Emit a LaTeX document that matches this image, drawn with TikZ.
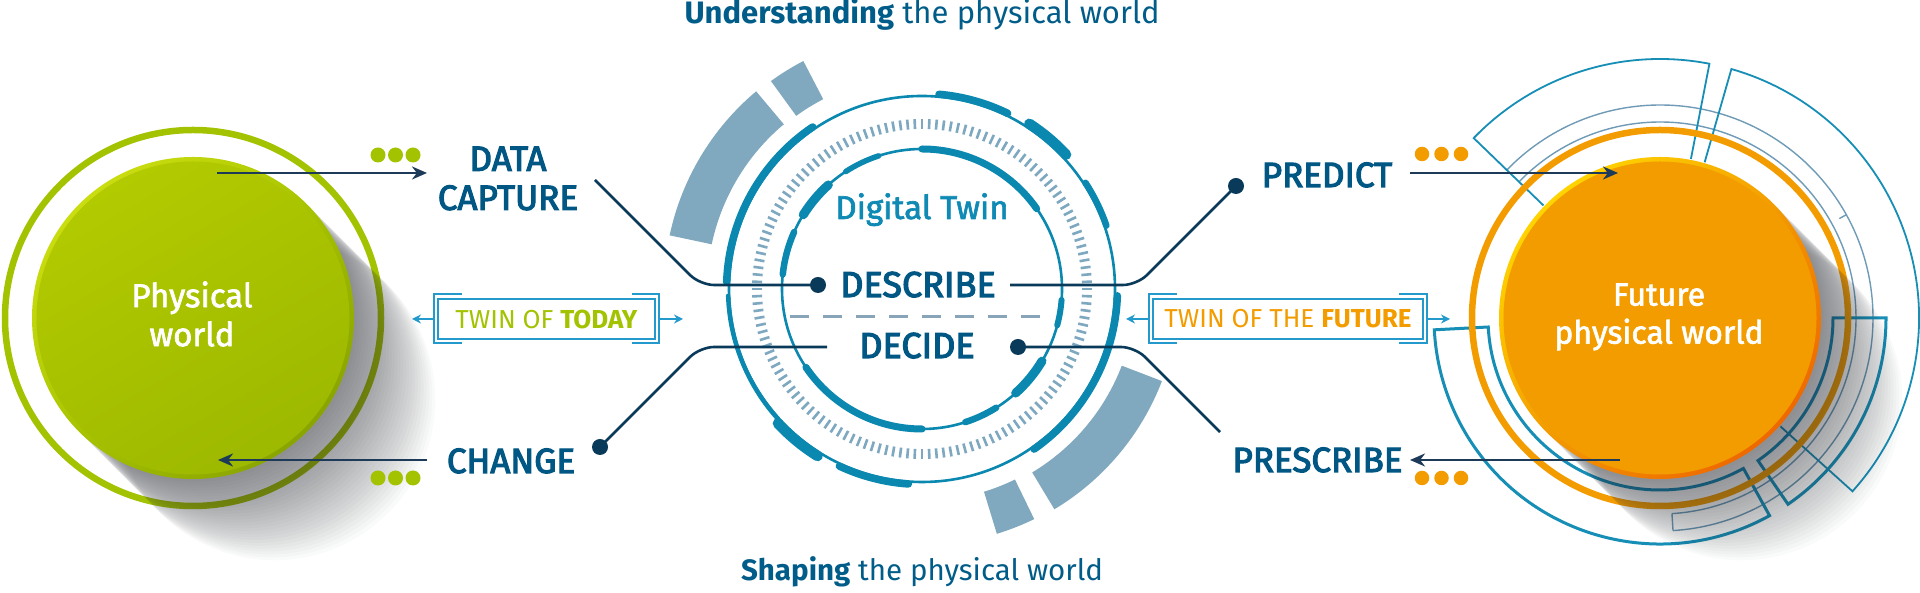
\documentclass[tikz,border=0pt]{standalone}
\usepackage{fontspec}
\setmainfont{Fira Sans}
\newfontfamily\medfont[FakeBold=2]{Fira Sans}
\newfontfamily\semifont[FakeBold=3.2]{Fira Sans}
\usetikzlibrary{arrows.meta}
\definecolor{labblue}{HTML}{005783}
\definecolor{ttlblue}{HTML}{005C88}
\definecolor{navyc}{HTML}{0A3A5A}
\definecolor{arrowc}{HTML}{1D3B58}
\definecolor{ringteal}{HTML}{0A88B0}
\definecolor{dtwin}{HTML}{0F8AB5}
\definecolor{tickc}{HTML}{7EA8C0}
\definecolor{blockc}{HTML}{80A9BF}
\definecolor{dashc}{HTML}{88A4B8}
\definecolor{boxc}{HTML}{2399CC}
\definecolor{pwgreen}{HTML}{A3C200}
\definecolor{grim1}{HTML}{CADD10}
\definecolor{gmid}{HTML}{A8C400}
\definecolor{grim2}{HTML}{8AA400}
\definecolor{gin1}{HTML}{B2CA00}
\definecolor{gin2}{HTML}{9DB900}
\definecolor{pworange}{HTML}{F39C00}
\definecolor{orim1}{HTML}{FFD400}
\definecolor{orim2}{HTML}{EE6800}
\definecolor{greyline}{HTML}{6F9BB6}
\definecolor{tealline}{HTML}{168EB6}
\definecolor{shadowc}{HTML}{2A2E36}
\begin{document}
\begin{tikzpicture}[x=1pt,y=1pt,
  lab/.style={text=labblue, font=\semifont\fontsize{35}{39}\selectfont, inner sep=0pt, align=center},
  ttl/.style={text=ttlblue, font=\fontsize{31}{34}\selectfont, inner sep=0pt},
  conn/.style={draw=navyc, line width=2.6pt, rounded corners=14pt},
  dotn/.style={circle, fill=navyc, minimum size=16pt, inner sep=0pt},
  gdot/.style={circle, fill=pwgreen, minimum size=15pt, inner sep=0pt},
  odot/.style={circle, fill=pworange, minimum size=14.5pt, inner sep=0pt},
  bigarrow/.style={draw=arrowc, line width=2.8pt, -{Stealth[length=15pt,width=13pt]}},
  boxline/.style={draw=boxc, line width=1.6pt},
  boxarrow/.style={draw=boxc, line width=2pt, -{Stealth[length=9pt,width=9pt]}},
  twinbox/.style={draw=boxc, line width=1.6pt, inner sep=0pt, font=\fontsize{26}{30}\selectfont},
  tealthin/.style={draw=tealline, line width=1.8pt},
  tealthick/.style={draw=tealline, line width=3pt},
  thingrey/.style={draw=greyline, line width=1.4pt},
  disktext/.style={text=white, font=\medfont\fontsize{33}{39}\selectfont, inner sep=0pt, align=center},
  shadowdisk/.style={fill=shadowc, opacity=0.022}
]
\useasboundingbox (0,0) rectangle (1920,593);
\fill[white] (0,0) rectangle (1920,593);

% ================= central digital twin =================
\begin{scope}[shift={(922,304)}]
  \fill[blockc] (130:215) arc[start angle=130,end angle=168,radius=215] -- (168:258) arc[start angle=168,end angle=130,radius=258] -- cycle;
  \fill[blockc] (117.5:214) arc[start angle=117.5,end angle=126,radius=214] -- (126:257) arc[start angle=126,end angle=117.5,radius=257] -- cycle;
  \fill[blockc] (-59:214) arc[start angle=-59,end angle=-21,radius=214] -- (-21:257) arc[start angle=-21,end angle=-59,radius=257] -- cycle;
  \fill[blockc] (-73:212) arc[start angle=-73,end angle=-64,radius=212] -- (-64:256) arc[start angle=-64,end angle=-73,radius=256] -- cycle;
  \foreach \a in {0,2.5,...,357.5} \draw[tickc, line width=2.6pt] (\a:160) -- (\a:170);
  \draw[ringteal, line width=2.6pt] (0,0) circle[radius=193];
  \foreach \s/\e/\w in {64/85/7.5, 43/57/10.5, 19/33/6.5, -55/-2/7.5, -115/-94/7.5, -137/-122/10.5, 124/178/7.5, 182/222/4.5} {
    \pgfmathsetmacro\rr{191.7+\w/2}
    \draw[ringteal, line width=\w pt, line cap=round] (\s:\rr) arc[start angle=\s,end angle=\e,radius=\rr];
  }
  \draw[ringteal, line width=2.6pt] (0,0) circle[radius=140];
  \foreach \s/\e/\w in {35/90/7, 108/123/5.5, 132/148/9, 156/174/6.5, -146/-90/7, -72/-58/6.5, -48/-31/9, -15/-4.5/6} {
    \draw[ringteal, line width=\w pt, line cap=round] (\s:140) arc[start angle=\s,end angle=\e,radius=140];
  }
\end{scope}
\draw[dashc, line width=3pt, dash pattern=on 19pt off 14pt] (790,276) -- (1053,276);

\node[text=dtwin, font=\medfont\fontsize{33}{38}\selectfont, inner sep=0pt, anchor=base] (dt) at (922,374) {Digital Twin};
\node[lab, anchor=base, font=\semifont\fontsize{36}{40}\selectfont] (describe) at (918,296) {DESCRIBE};
\node[lab, anchor=base, font=\semifont\fontsize{36}{40}\selectfont] (decide) at (917,235) {DECIDE};

% ================= left: physical world =================
\draw[pwgreen, line width=6.5pt] (193,275) circle[radius=188];
\foreach \i in {1,...,28} \fill[shadowdisk] ({193+2.9*\i},{275-2.9*\i}) circle[radius=161];
\shade[top color=grim1, bottom color=grim2, middle color=gmid, shading angle=45] (193,275) circle[radius=161];
\shade[top color=gin1, bottom color=gin2, shading angle=30] (193,275) circle[radius=156.5];
\node[disktext] (pw) at (192,279) {Physical\\world};

% ================= right: future physical world =================
\begin{scope}[shift={(1660,275)}]
  \draw[thingrey] (-86.5:196) arc[start angle=-86.5,end angle=136,radius=196];
  \draw[thingrey] (-86.5:213) arc[start angle=-86.5,end angle=136,radius=213];
  \draw[thingrey] (-86.5:196) -- (-86.5:213);
  \draw[thingrey] (29:205) -- (29:213);
  \draw[tealthin] (79:162) -- (79:259) arc[start angle=79,end angle=136,radius=259] -- (136:162);
  \draw[tealthin] (74:162) -- (74:259) arc[start angle=74,end angle=-42,radius=259] -- (-42:162);
  \draw[tealthick] (183:172) arc[start angle=183,end angle=299,radius=172] -- (299:226) arc[start angle=299,end angle=183,radius=226] -- cycle;
  \draw[tealthick] (0:173) -- (0:226) arc[start angle=0,end angle=-55.5,radius=226] -- (-55.5:173) arc[start angle=-55.5,end angle=0,radius=173] -- cycle;
  \draw[pworange, line width=6.5pt] (0,0) circle[radius=188];
  \foreach \i in {1,...,28} \fill[shadowdisk] ({2.9*\i},{-2.9*\i}) circle[radius=161];
  \shade[top color=orim1, bottom color=orim2, middle color=pworange, shading angle=45] (0,0) circle[radius=161];
  \fill[pworange] (0,0) circle[radius=156.5];
\end{scope}
\node[disktext, font=\medfont\fontsize{32}{38}\selectfont] (fpw) at (1659,276) {Future\\physical world};

% ================= titles =================
\node[ttl, anchor=base] (t1) at (922,569) {\textbf{Understanding} the physical world};
\node[ttl, anchor=base, font=\fontsize{29.5}{33}\selectfont] (t2) at (922,12) {\textbf{Shaping} the physical world};

% ================= labels =================
\node[lab] (dc) at (508,414.5) {DATA\\CAPTURE};
\node[lab, anchor=base] (change) at (511,120) {CHANGE};
\node[lab, anchor=base] (predict) at (1327,406) {PREDICT};
\node[lab, anchor=base] (prescribe) at (1317.5,121) {PRESCRIBE};

% ================= dots =================
\node[gdot] (g1) at (378,438) {};
\node[gdot] (g2) at (395.5,438) {};
\node[gdot] (g3) at (413,438) {};
\node[gdot] (g4) at (378,115) {};
\node[gdot] (g5) at (395.5,115) {};
\node[gdot] (g6) at (413,115) {};
\node[odot] (o1) at (1422,439) {};
\node[odot] (o2) at (1441.5,439) {};
\node[odot] (o3) at (1461,439) {};
\node[odot] (o4) at (1422,115) {};
\node[odot] (o5) at (1441.5,115) {};
\node[odot] (o6) at (1461,115) {};

% ================= big arrows =================
\coordinate (la1) at (217,420); \coordinate (la2) at (427,420);
\coordinate (lb1) at (427,133); \coordinate (lb2) at (218,133);
\coordinate (ra1) at (1410,420); \coordinate (ra2) at (1618,420);
\coordinate (rb1) at (1620,133); \coordinate (rb2) at (1410,133);
\draw[bigarrow] (la1) -- (la2);
\draw[bigarrow] (lb1) -- (lb2);
\draw[bigarrow] (ra1) -- (ra2);
\draw[bigarrow] (rb1) -- (rb2);

% ================= connectors =================
\node[dotn] (d1) at (818,308) {};
\node[dotn] (d2) at (600,146) {};
\node[dotn] (d3) at (1236,407) {};
\node[dotn] (d4) at (1018,246) {};
\coordinate (dcs) at (595,413); \coordinate (dck) at (700,308);
\coordinate (chk) at (700,246); \coordinate (che) at (827,246);
\coordinate (prs) at (1010,308); \coordinate (prk) at (1137,308);
\coordinate (psk) at (1135,246); \coordinate (pse) at (1220,161);
\draw[conn] (dcs) -- (dck) -- (d1.center);
\draw[conn] (d2.center) -- (chk) -- (che);
\draw[conn] (prs) -- (prk) -- (d3.center);
\draw[conn] (d4.center) -- (psk) -- (pse);

% ================= twin boxes =================
\node[twinbox, minimum width=217pt, minimum height=40pt, text=pwgreen] (today) at (546.5,274) {TWIN OF \textbf{TODAY}};
\draw[boxline] (462,299) -- (434,299) -- (434,250) -- (462,250);
\draw[boxline] (632,299) -- (659,299) -- (659,250) -- (632,250);
\coordinate (tl1) at (434,274); \coordinate (tl2) at (412,274);
\coordinate (tr1) at (659,274); \coordinate (tr2) at (683,274);
\draw[boxarrow] (tl1) -- (tl2);
\draw[boxarrow] (tr1) -- (tr2);

\node[twinbox, minimum width=270pt, minimum height=40pt, text=pworange] (future) at (1288,274) {TWIN OF THE \textbf{FUTURE}};
\draw[boxline] (1177,299) -- (1149,299) -- (1149,250) -- (1177,250);
\draw[boxline] (1399,299) -- (1427,299) -- (1427,250) -- (1399,250);
\coordinate (fl1) at (1149,274); \coordinate (fl2) at (1126,274);
\coordinate (fr1) at (1427,274); \coordinate (fr2) at (1450,274);
\draw[boxarrow] (fl1) -- (fl2);
\draw[boxarrow] (fr1) -- (fr2);
\end{tikzpicture}
\end{document}
